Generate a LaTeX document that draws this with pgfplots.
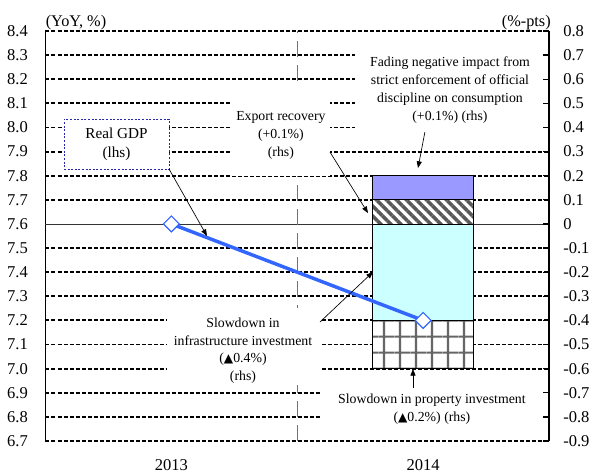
\documentclass[border=0pt]{standalone}
\usepackage{fontspec}
\setmainfont{Liberation Serif}
\newfontfamily\symb[Scale=0.88]{DejaVu Sans}
\usepackage{pgfplots}
\pgfplotsset{compat=1.18}
\usetikzlibrary{arrows.meta,patterns,patterns.meta}

\definecolor{gdpblue}{RGB}{51,102,255}
\definecolor{boxblue}{RGB}{40,40,170}
\definecolor{consviolet}{RGB}{153,153,255}
\definecolor{infracyan}{RGB}{204,255,255}

% square grid texture for the property bar (cell 11.85pt)
\pgfdeclarepatternformonly{propgrid}{\pgfqpoint{0pt}{0pt}}{\pgfqpoint{11.85pt}{11.85pt}}%
  {\pgfqpoint{11.85pt}{11.85pt}}{%
  \pgfsetlinewidth{1.6pt}%
  \pgfpathmoveto{\pgfqpoint{3.8pt}{0pt}}\pgfpathlineto{\pgfqpoint{3.8pt}{11.85pt}}%
  \pgfpathmoveto{\pgfqpoint{0pt}{7.8pt}}\pgfpathlineto{\pgfqpoint{11.85pt}{7.8pt}}%
  \pgfusepath{stroke}}

\newcommand\ticfont{\fontsize{12.4}{14}\selectfont}
\newcommand\notefont{\fontsize{10.35}{13.3}\selectfont}
\newcommand\gdpfont{\fontsize{11.4}{14.6}\selectfont}
\newcommand\dn{{\symb ▲}}

\pgfplotsset{
  frame/.style={scale only axis, width=377.625pt, height=307.5pt,
    at={(0,0)}, anchor=south west, xmin=-0.5, xmax=1.5},
  lhs/.style={frame, ymin=6.7, ymax=8.4},
  rhs/.style={frame, ymin=-0.9, ymax=0.8},
}
\tikzset{
  note/.style={font=\notefont, align=center, inner sep=0pt},
  pointer/.style={-{Triangle[length=5pt,width=3.8pt]}, line width=0.5pt, black},
}

\begin{document}
\begin{tikzpicture}
% left scale: grid, frame and the annotation boxes
\begin{axis}[lhs, clip=false,
  separate axis lines,
  x axis line style={draw=none},
  y axis line style={black, line width=1.1pt},
  xtick={0,1}, xticklabels={2013,2014},
  major x tick style={draw=none},
  xticklabel style={font=\ticfont, anchor=north, inner sep=0pt, yshift=-14pt},
  ytick={6.7,6.8,6.9,7.0,7.1,7.2,7.3,7.4,7.5,7.7,7.8,7.9,8.0,8.1,8.2,8.3,8.4},
  extra y ticks={7.6},
  extra y tick style={major grid style={solid, black!80, line width=0.6pt}},
  ytick pos=left,
  major y tick style={draw=none},
  /pgf/number format/assume math mode=true,
  yticklabel style={font=\ticfont, anchor=east, inner sep=0pt, xshift=-13pt,
    /pgf/number format/fixed, /pgf/number format/fixed zerofill,
    /pgf/number format/precision=1},
  ymajorgrids,
  major grid style={black, line width=1.4pt, dash pattern=on 3pt off 1.5pt},
]
\draw[black!55, line width=0.5pt, dash pattern=on 12pt off 6pt]
  (axis cs:0.5,6.7) -- (axis cs:0.5,8.4);

\fill[white] (axis cs:0.2407,7.8) rectangle (axis cs:0.630,8.164);
\fill[white] (axis cs:0.729,7.956) rectangle (axis cs:1.495,8.346);
\fill[white] (axis cs:-0.0175,6.932) rectangle (axis cs:0.598,7.2515);
\fill[white] (axis cs:0.5906,6.737) rectangle (axis cs:1.495,6.961);

\node[note] at (axis cs:0.435,7.967) {Export recovery\\(+0.1\%)\\(rhs)};
\node[note] at (axis cs:1.1067,8.155)
  {Fading negative impact from\\strict enforcement of official\\discipline on consumption\\(+0.1\%) (rhs)};
\node[note] at (axis cs:0.2844,7.075)
  {Slowdown in\\infrastructure investment\\(\dn0.4\%)\\(rhs)};
\node[note] at (axis cs:1.035,6.833)
  {Slowdown in property investment\\(\dn0.2\%) (rhs)};

\node[draw=boxblue, dash pattern=on 1.5pt off 1.2pt, line width=0.6pt, fill=white,
  minimum width=78.75pt, minimum height=37.5pt, align=center, font=\gdpfont, inner sep=0pt]
  at (axis cs:-0.218,7.931) {Real GDP\\(lhs)};

\node[font=\fontsize{12.2}{14}\selectfont, anchor=base west, inner sep=0pt]
  at ([yshift=3.5pt]rel axis cs:0,1) {(YoY, \%)};
\node[font=\fontsize{12.2}{14}\selectfont, anchor=base east, inner sep=0pt]
  at ([yshift=3.5pt, xshift=1.5pt]rel axis cs:1,1) {(\%-pts)};
\end{axis}

% right scale: negative contributions
\begin{axis}[rhs, hide axis, ybar stacked, bar width=0.4]
\addplot[draw=black, line width=0.6pt, fill=infracyan] coordinates {(1,-0.4)};
\addplot[draw=black, line width=0.6pt, preaction={fill=white},
  pattern=propgrid, pattern color=black!60]
  coordinates {(1,-0.2)};
\end{axis}

% right scale: positive contributions and the right-hand ticks
\begin{axis}[rhs, ybar stacked, bar width=0.4,
  axis x line=none, axis y line*=right,
  y axis line style={black, line width=1.1pt},
  ytick={-0.9,-0.8,-0.7,-0.6,-0.5,-0.4,-0.3,-0.2,-0.1,0,0.1,0.2,0.3,0.4,0.5,0.6,0.7,0.8},
  yticklabels={-0.9,-0.8,-0.7,-0.6,-0.5,-0.4,-0.3,-0.2,-0.1,0,0.1,0.2,0.3,0.4,0.5,0.6,0.7,0.8},
  tick align=inside, major tick length=4.5pt,
  major tick style={black, line width=1pt},
  yticklabel style={font=\ticfont, anchor=west, inner sep=0pt, xshift=10.5pt},
]
\addplot[draw=black, line width=0.6pt, preaction={fill=white},
  pattern={Lines[angle=-45, distance=5.3pt, line width=2.6pt]}, pattern color=black!65]
  coordinates {(1,0.1)};
\addplot[draw=black, line width=0.6pt, fill=consviolet] coordinates {(1,0.1)};
\end{axis}

% left scale: real GDP growth and the pointers
\begin{axis}[lhs, hide axis, clip=false]
\addplot[gdpblue, line width=2.6pt, mark=square*, mark size=4.2pt,
  mark options={rotate=45, fill=white, draw=gdpblue, line width=0.9pt, solid}]
  coordinates {(0,7.6) (1,7.2)};
\draw[pointer] (axis cs:-0.0095,7.828) -- (axis cs:0.1414,7.550);
\draw[pointer] (axis cs:0.630,7.898) -- (axis cs:0.781,7.645);
\draw[pointer] (axis cs:1.007,7.981) -- (axis cs:0.9797,7.832);
\draw[pointer] (axis cs:0.590,7.193) -- (axis cs:0.8007,7.4007);
\draw[pointer] (axis cs:0.9597,6.920) -- (axis cs:0.9597,6.9986);
\end{axis}

\pgfresetboundingbox
\useasboundingbox (-34.125pt,-24pt) rectangle (409.125pt,330.75pt);
\end{tikzpicture}
\end{document}
